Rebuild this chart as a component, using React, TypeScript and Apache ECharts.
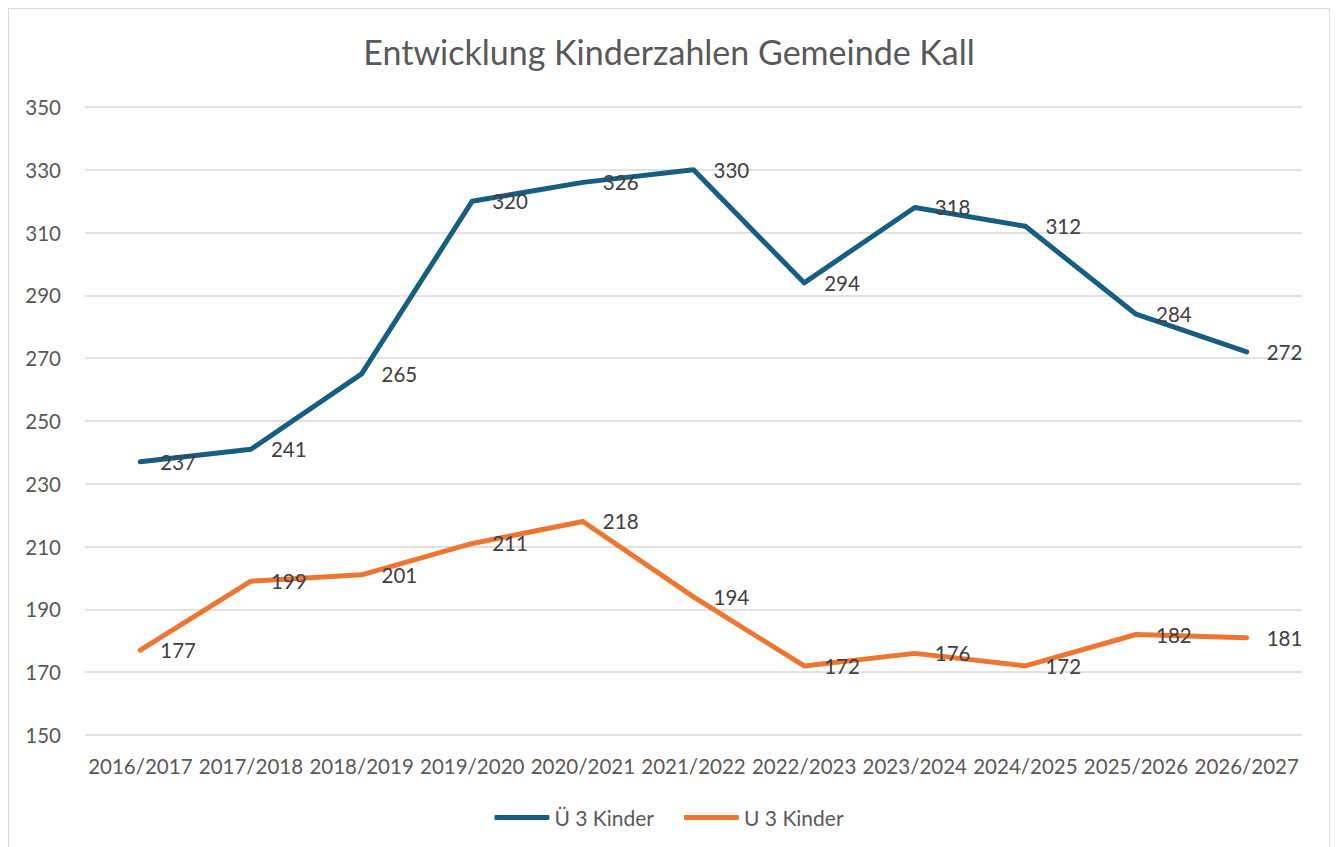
import React, { useEffect, useRef } from "react";
import * as echarts from "echarts";

const categories = ["2016/2017", "2017/2018", "2018/2019", "2019/2020", "2020/2021", "2021/2022", "2022/2023", "2023/2024", "2024/2025", "2025/2026", "2026/2027"];
const ue3Kinder = [237, 241, 265, 320, 326, 330, 294, 318, 312, 284, 272];
const u3Kinder = [177, 199, 201, 211, 218, 194, 172, 176, 172, 182, 181];
const seriesNames = ["Ü 3 Kinder", "U 3 Kinder"];

export default function App() {
  const ref = useRef<HTMLDivElement>(null);
  useEffect(() => {
    if (!ref.current) return;
    const chart = echarts.init(ref.current, null, { renderer: "svg" });
    const font = "Lato, 'Open Sans', sans-serif";
    const label = {
      show: true,
      position: "right" as const,
      distance: 18,
      color: "#404040",
      fontSize: 20.5,
      fontFamily: font,
    };
    const mkSeries = (name: string, data: number[], color: string) => ({
      name,
      type: "line",
      data,
      symbol: "circle",
      symbolSize: 4,
      showSymbol: true,
      itemStyle: { color, borderWidth: 0 },
      color,
      lineStyle: { width: 5, color, cap: "round", join: "round" },
      label,
      labelLayout: { hideOverlap: false },
    });
    chart.setOption({
      animation: false,
      backgroundColor: "#ffffff",
      title: {
        text: "Entwicklung Kinderzahlen Gemeinde Kall",
        left: "center",
        top: 20,
        textStyle: { color: "#595959", fontSize: 34, fontWeight: "normal", fontFamily: font },
      },
      legend: {
        top: 793,
        left: "center",
        icon: "roundRect",
        itemWidth: 55,
        itemHeight: 5,
        itemGap: 30,
        textStyle: { color: "#595959", fontSize: 21, fontFamily: font },
        data: seriesNames,
      },
      grid: { left: 76, top: 98, width: 1217, height: 628, containLabel: false },
      xAxis: {
        type: "category",
        data: categories,
        boundaryGap: true,
        axisLine: { show: false },
        axisTick: { show: false },
        axisLabel: { color: "#595959", fontSize: 20.5, fontFamily: font, margin: 20, interval: 0 },
      },
      yAxis: {
        type: "value",
        min: 150,
        max: 350,
        interval: 20,
        axisLine: { show: false },
        axisTick: { show: false },
        splitLine: { lineStyle: { color: "#d9d9d9", width: 1.5 } },
        axisLabel: { color: "#595959", fontSize: 20.5, fontFamily: font, margin: 24 },
      },
      series: [
        mkSeries(seriesNames[0], ue3Kinder, "#175e81"),
        mkSeries(seriesNames[1], u3Kinder, "#ed7732"),
      ],
    });
    return () => chart.dispose();
  }, []);
  return (
    <div
      ref={ref}
      style={{ width: 1322, height: 850, border: "1px solid #d9d9d9", boxSizing: "border-box" }}
    />
  );
}
